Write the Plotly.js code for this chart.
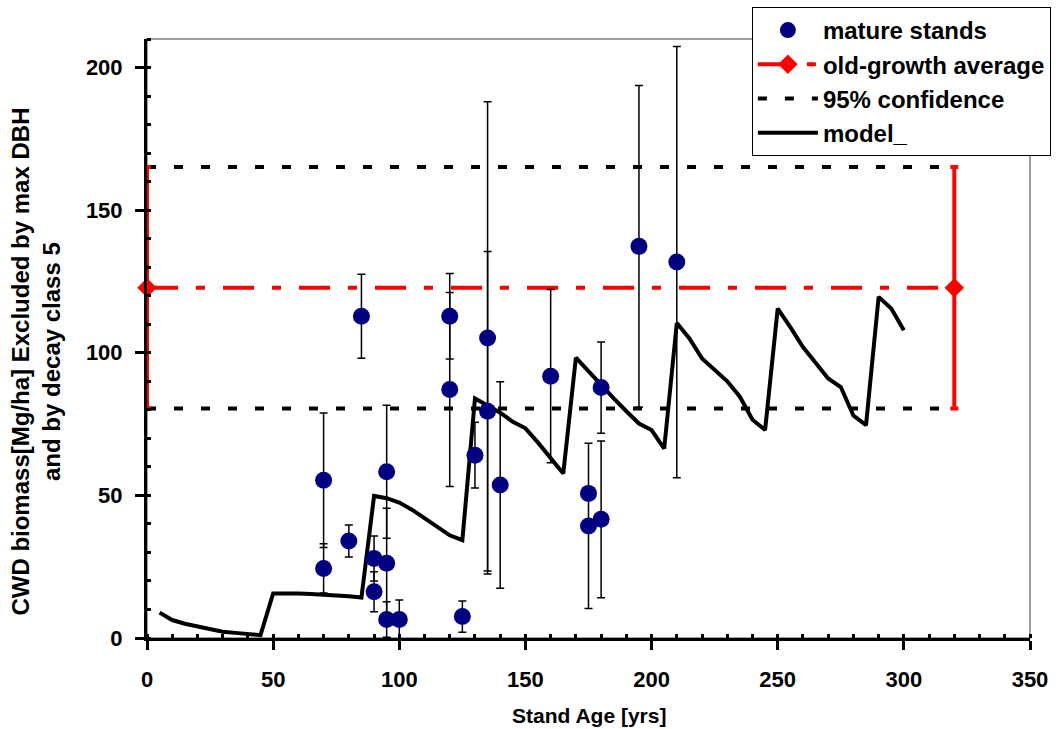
<!DOCTYPE html>
<html>
<head>
<meta charset="utf-8">
<script src="https://cdn.plot.ly/plotly-3.0.1.min.js"></script>
<style>html,body{margin:0;padding:0;background:#fff;}#chart{width:1062px;height:729px;}</style>
</head>
<body>
<div id="chart"></div>
<script>
// mature stands (observations)
const standAge   = [70, 70, 80, 85, 90, 90, 95, 95, 95, 100, 120, 120, 125, 130, 135, 135, 140, 160, 175, 175, 180, 180, 195, 210];
const cwdBiomass = [55.3, 24.4, 34.0, 112.8, 27.9, 16.2, 58.3, 26.2, 6.5, 6.5, 112.8, 87.1, 7.5, 64.1, 105.2, 79.5, 53.6, 91.8, 50.7, 39.3, 87.8, 41.6, 137.3, 131.8];
const cwdError   = [23.6, 8.6, 5.6, 14.7, 7.9, 7.0, 23.3, 19.3, 6.2, 6.8, 15.0, 34.0, 5.5, 11.5, 82.8, 56.0, 36.2, 30.4, 0, 29.0, 16.0, 27.5, 56.4, 75.6];

// old-growth average and 95% confidence
const ogX = [0, 320];
const ogMean = [122.8, 122.8];
const ogErr = [42.3, 42.3];
const ciLowY = 80.5;
const ciHighY = 165.1;

// model
const modelAge = [5,10,15,20,25,30,35,40,45,50,55,60,65,70,75,80,85,90,95,100,105,110,115,120,125,130,135,140,145,150,155,160,165,170,175,180,185,190,195,200,205,210,215,220,225,230,235,240,245,250,255,260,265,270,275,280,285,290,295,300];
const modelCWD = [8.9,6.3,5.0,4.0,3.0,2.2,1.8,1.4,1.0,15.6,15.7,15.6,15.4,15.2,14.9,14.6,14.2,49.8,49.0,47.5,45.0,42.0,39.0,36.0,34.3,84.0,81.5,79.0,75.8,73.5,68.5,63.0,57.7,98.3,93.5,88.3,84.0,79.5,75.2,72.9,66.4,110.4,105.0,98.0,94.0,90.0,84.6,76.5,72.9,115.5,109.0,102.0,96.5,91.0,88.0,78.0,74.6,119.6,115.5,107.9];

const xTicks = [0, 50, 100, 150, 200, 250, 300, 350];
const yTicks = [0, 50, 100, 150, 200];

const FONT = 'Liberation Sans, Arial, sans-serif';

const traces = [
  {
    x: [ogX[0], ogX[1], null, ogX[0], ogX[1]],
    y: [ciHighY, ciHighY, null, ciLowY, ciLowY],
    mode: 'lines', name: '95% confidence', legendrank: 3, legendgroup: 'c',
    line: {color: '#000000', width: 4, dash: '9px,18px'},
    hoverinfo: 'skip'
  },
  {
    x: ogX, y: ogMean,
    mode: 'lines+markers', name: 'old-growth average', legendrank: 2, legendgroup: 'b',
    line: {color: '#ff0000', width: 4, dash: '31px,18px,9px,18px'},
    marker: {symbol: 'diamond', size: 15, color: '#ff0000'},
    cliponaxis: false,
    error_y: {type: 'data', array: ogErr, visible: true, color: '#ff0000', thickness: 4, width: 4}
  },
  {
    x: modelAge, y: modelCWD,
    mode: 'lines', name: 'model_', legendrank: 4, legendgroup: 'd',
    line: {color: '#000000', width: 4}
  },
  {
    x: standAge, y: cwdBiomass,
    mode: 'markers', name: 'mature stands', legendrank: 1, legendgroup: 'a',
    marker: {symbol: 'circle', size: 17, color: '#000080'},
    error_y: {type: 'data', array: cwdError, visible: true, color: '#000000', thickness: 1.5, width: 4}
  }
];

const layout = {
  width: 1062, height: 729,
  paper_bgcolor: '#ffffff', plot_bgcolor: '#ffffff',
  margin: {l: 147, r: 32, t: 39, b: 91, pad: 0, autoexpand: false},
  showlegend: true,
  font: {family: FONT, color: '#000000'},
  legend: {
    xref: 'container', yref: 'container',
    x: 0.708, y: 0.9904, xanchor: 'left', yanchor: 'top',
    bgcolor: '#ffffff', bordercolor: '#000000', borderwidth: 1,
    font: {family: FONT, size: 24, weight: 'bold', color: '#000000'},
    traceorder: 'grouped', tracegroupgap: 0, itemwidth: 60
  },
  xaxis: {
    range: [0, 350], tickvals: xTicks, ticktext: xTicks.map(String),
    showgrid: false, zeroline: false,
    showline: true, linecolor: '#000000', linewidth: 3,
    ticks: 'outside', ticklen: 9, tickwidth: 3, tickcolor: '#000000',
    minor: {dtick: 10, ticks: 'inside', ticklen: 4, tickwidth: 3, tickcolor: '#000000', showgrid: false},
    tickfont: {family: FONT, size: 22, weight: 'bold', color: '#000000'},
    ticklabelstandoff: 11,
    automargin: false,
    fixedrange: true
  },
  yaxis: {
    range: [0, 210], tickvals: yTicks, ticktext: yTicks.map(String),
    showgrid: false, zeroline: false,
    showline: true, linecolor: '#000000', linewidth: 3,
    ticks: 'outside', ticklen: 9, tickwidth: 3, tickcolor: '#000000',
    minor: {dtick: 10, ticks: 'inside', ticklen: 4, tickwidth: 3, tickcolor: '#000000', showgrid: false},
    tickfont: {family: FONT, size: 22, weight: 'bold', color: '#000000'},
    ticklabelstandoff: 8,
    automargin: false,
    fixedrange: true
  },
  shapes: [
    {type: 'rect', xref: 'paper', yref: 'paper', x0: 0, x1: 1, y0: 0, y1: 1,
     line: {color: '#808080', width: 1.5}, layer: 'below'}
  ],
  annotations: [
    {text: 'Stand Age [yrs]', xref: 'paper', yref: 'paper', x: 0.5, y: -0.13,
     xanchor: 'center', yanchor: 'middle', showarrow: false,
     font: {family: FONT, size: 21, weight: 'bold', color: '#000000'}},
    {text: 'CWD biomass[Mg/ha] Excluded by max DBH<br>and by decay class 5', xref: 'paper', yref: 'paper',
     x: -0.126, y: 0.461, xanchor: 'center', yanchor: 'middle', textangle: -90, showarrow: false,
     font: {family: FONT, size: 24, weight: 'bold', color: '#000000'}}
  ]
};

Plotly.newPlot('chart', traces, layout, {displayModeBar: false, staticPlot: true});
</script>
</body>
</html>
